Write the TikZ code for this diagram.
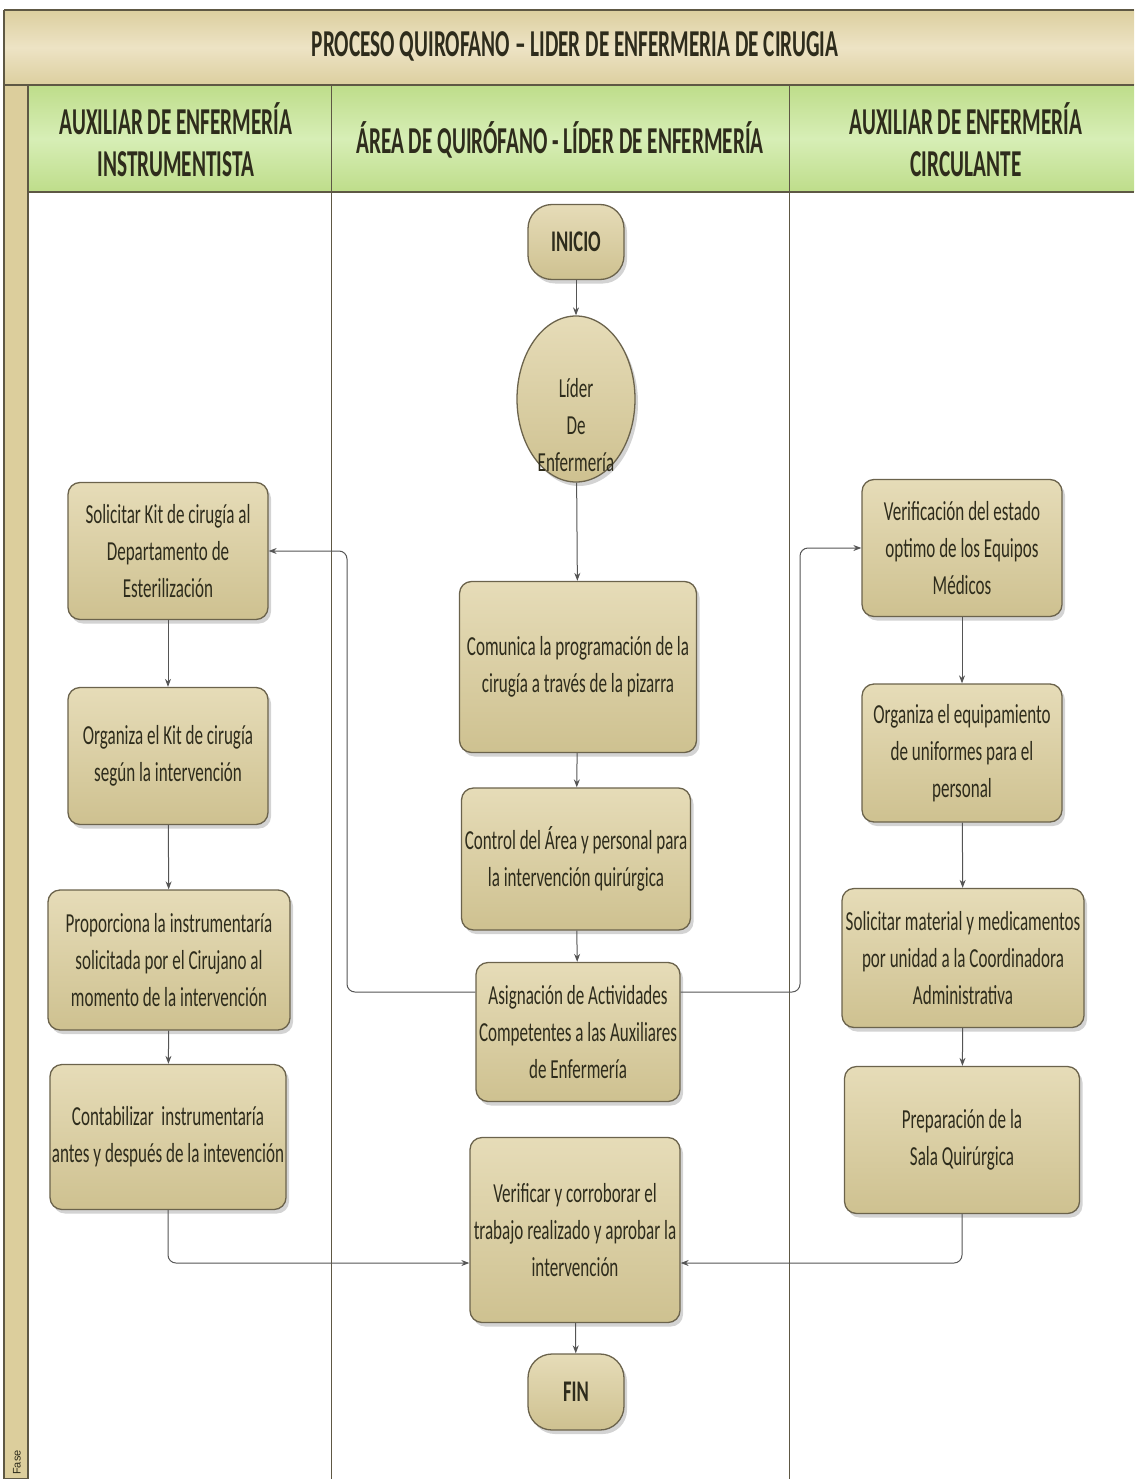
\documentclass[tikz,border=0pt]{standalone}
\usepackage{fontspec}
\setmainfont{Carlito}[FakeStretch=0.62]
\newfontfamily\headfont{Carlito}[FakeStretch=0.56]
\newfontfamily\fasefont{Liberation Sans}
\usetikzlibrary{shadows,arrows.meta,shapes.geometric}
\definecolor{boxtop}{HTML}{E6DCB8}
\definecolor{boxbot}{HTML}{CEC190}
\definecolor{boxborder}{HTML}{6B634C}
\definecolor{bandtop}{HTML}{DCCF9F}
\definecolor{bandmid}{HTML}{EDE3C4}
\definecolor{greentop}{HTML}{BEDD8A}
\definecolor{greenmid}{HTML}{D7EEB6}
\definecolor{fasecol}{HTML}{DCCE9C}
\definecolor{framecol}{HTML}{5E5844}
\definecolor{linecol}{HTML}{555555}
\definecolor{txtcol}{HTML}{2E2C1C}
\tikzset{
  procbox/.style={draw=boxborder, line width=1.3pt, rounded corners=12pt,
    top color=boxtop, bottom color=boxbot,
    drop shadow={opacity=0.35, shadow xshift=3pt, shadow yshift=-4pt},
    align=center, text=txtcol, inner sep=2pt,
    font=\fontsize{27.5}{37}\selectfont},
  termbox/.style={procbox, rounded corners=24pt, font=\bfseries\fontsize{30}{30}\selectfont},
  conn/.style={draw=linecol, line width=1pt, -{Stealth[length=8pt,width=6pt]}},
  elbow/.style={conn, rounded corners=8pt},
  headtxt/.style={align=center, text=txtcol, font=\headfont\bfseries\fontsize{38}{42}\selectfont},
  lane/.style={draw=framecol, line width=1pt}
}
\begin{document}
\begin{tikzpicture}[x=1pt,y=-1pt]
\useasboundingbox (0,0) rectangle (1134,1479);
% title band
\path[top color=bandtop, bottom color=bandtop, middle color=bandmid] (4,10) rectangle (1134,85);
\draw[framecol, line width=2.5pt] (4,10) -- (1134,10);
\draw[framecol, line width=1.2pt] (4,10) -- (4,1479);
\node[headtxt] (title) at (575,46) {PROCESO QUIROFANO – LIDER DE ENFERMERIA DE CIRUGIA};
% header row
\path[top color=greentop, bottom color=greentop, middle color=greenmid] (28,85) rectangle (1134,192);
\draw[framecol, line width=2pt] (4,85) -- (1134,85);
\draw[framecol, line width=2pt] (28,192) -- (1134,192);
% fase strip
\draw[fill=fasecol, draw=framecol, line width=1.2pt] (4,85) rectangle (28,1479);
\node[rotate=90, anchor=west, font=\fasefont\fontsize{11}{12}\selectfont, text=txtcol, inner sep=1pt] (fase) at (17,1476) {Fase};
% lanes
\draw[lane] (331,85) -- (331,1479);
\draw[lane] (789,85) -- (789,1479);
\node[headtxt] (h1) at (176,140) {AUXILIAR DE ENFERMERÍA\\INSTRUMENTISTA};
\node[headtxt] (h2) at (560,140) {ÁREA DE QUIRÓFANO - LÍDER DE ENFERMERÍA};
\node[headtxt] (h3) at (966,140) {AUXILIAR DE ENFERMERÍA\\CIRCULANTE};
% centre lane
\node[termbox, minimum width=96pt, minimum height=75pt] (inicio) at (576,242) {INICIO};
\node[ellipse, draw=boxborder, line width=1.3pt, top color=boxtop, bottom color=boxbot,
  drop shadow={opacity=0.35, shadow xshift=3pt, shadow yshift=-4pt},
  minimum width=118pt, minimum height=166pt, inner sep=0pt] (lider) at (576,399) {};
\node[align=center, text=txtcol, font=\fontsize{27.5}{37}\selectfont] (lidertxt) at (576,425) {Líder\\De\\Enfermería};
\node[procbox, minimum width=237pt, minimum height=171pt] (c1) at (578,667) {Comunica la programación de la\\cirugía a través de la pizarra};
\node[procbox, minimum width=229pt, minimum height=142pt] (c2) at (576,859) {Control del Área y personal para\\la intervención quirúrgica};
\node[procbox, minimum width=204pt, minimum height=139pt] (c3) at (578,1032) {Asignación de Actividades\\Competentes a las Auxiliares\\de Enfermería};
\node[procbox, minimum width=210pt, minimum height=185pt] (c4) at (575,1230) {Verificar y corroborar el\\trabajo realizado y aprobar la\\intervención};
\node[termbox, minimum width=96pt, minimum height=76pt] (fin) at (576,1392) {FIN};
% left lane
\node[procbox, minimum width=200pt, minimum height=137pt] (s1) at (168,551) {Solicitar Kit de cirugía al\\Departamento de\\Esterilización};
\node[procbox, minimum width=200pt, minimum height=137pt] (s2) at (168,756) {Organiza el Kit de cirugía\\según la intervención};
\node[procbox, minimum width=242pt, minimum height=140pt] (s3) at (169,960) {Proporciona la instrumentaría\\solicitada por el Cirujano al\\momento de la intervención};
\node[procbox, minimum width=236pt, minimum height=145pt] (s4) at (168,1137) {Contabilizar\ \ instrumentaría\\antes y después de la intevención};
% right lane
\node[procbox, minimum width=200pt, minimum height=137pt] (r1) at (962,548) {Verificación del estado\\optimo de los Equipos\\Médicos};
\node[procbox, minimum width=200pt, minimum height=138pt] (r2) at (962,753) {Organiza el equipamiento\\de uniformes para el\\personal};
\node[procbox, minimum width=242pt, minimum height=139pt] (r3) at (963,958) {Solicitar material y medicamentos\\por unidad a la Coordinadora\\Administrativa};
\node[procbox, minimum width=235pt, minimum height=147pt] (r4) at (962,1140) {Preparación de la\\Sala Quirúrgica};
% junction coordinates
\coordinate (lj) at (347,551);
\coordinate (rj) at (800,548);
% connectors
\draw[conn] (inicio) -- (lider);
\draw[conn] (lider) -- (c1);
\draw[conn] (c1) -- (c2);
\draw[conn] (c2) -- (c3);
\draw[conn] (c4) -- (fin);
\draw[conn] (s1) -- (s2);
\draw[conn] (s2) -- (s3);
\draw[conn] (s3) -- (s4);
\draw[conn] (r1) -- (r2);
\draw[conn] (r2) -- (r3);
\draw[conn] (r3) -- (r4);
\draw[elbow] ([yshift=40pt]c3.west) -| (lj) -- (s1.east);
\draw[elbow] ([yshift=40pt]c3.east) -| (rj) -- (r1.west);
\draw[elbow] (s4.south) |- ([yshift=-33pt]c4.west);
\draw[elbow] (r4.south) |- ([yshift=-33pt]c4.east);
\end{tikzpicture}
\end{document}
